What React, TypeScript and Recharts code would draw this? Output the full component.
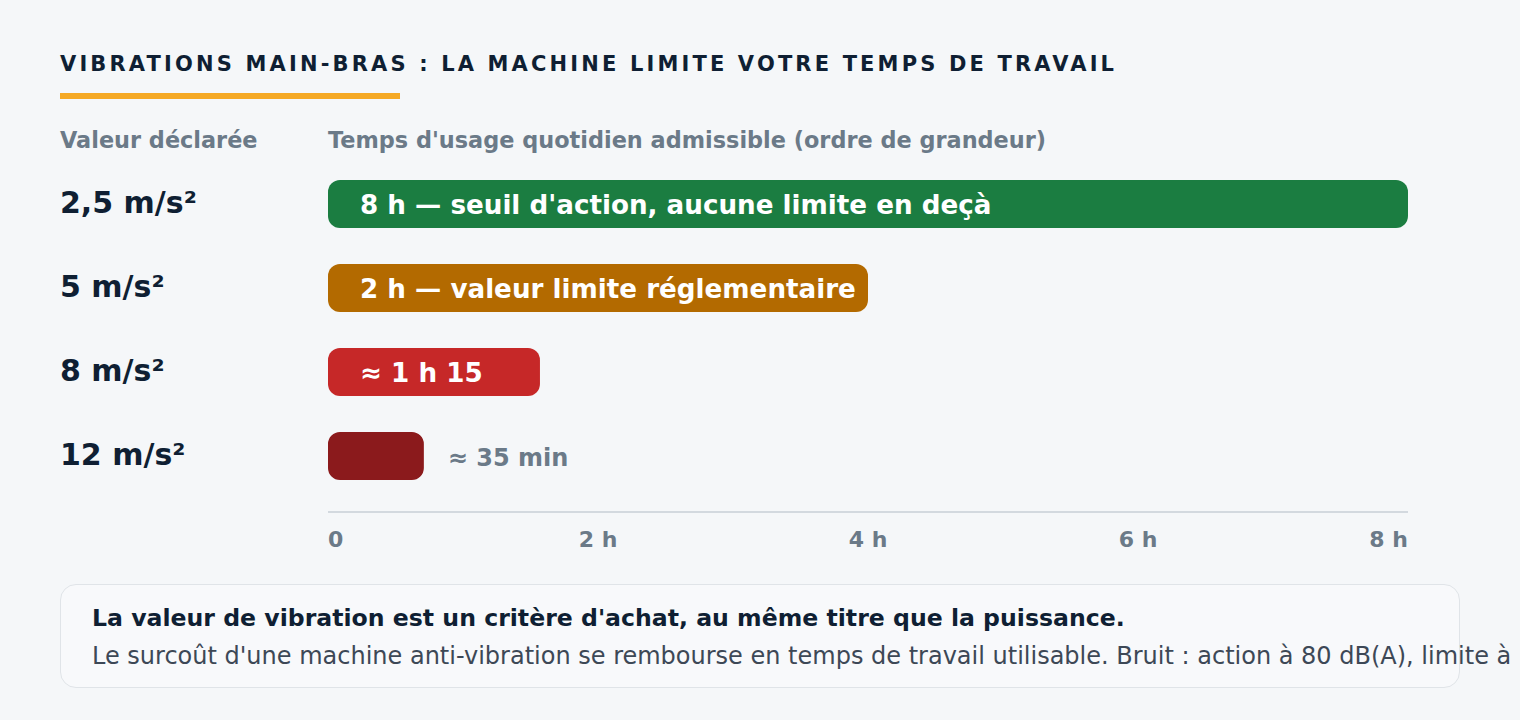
import { BarChart, Bar, XAxis, YAxis, Cell, LabelList } from 'recharts'

const vibrationValues = ['2,5 m/s²', '5 m/s²', '8 m/s²', '12 m/s²']
// bar length in axis hours, as drawn
const barLengths = [8, 4, 1.57, 0.71]
const barTexts = [
  "8 h — seuil d'action, aucune limite en deçà",
  '2 h — valeur limite réglementaire',
  '≈ 1 h 15',
  '≈ 35 min',
]
const labelInside = [true, true, true, false]
const barColors = ['#1b7d41', '#b36a00', '#c62828', '#8b1a1c']
const hourTicks = [0, 2, 4, 6, 8]
const hourTickLabels = ['0', '2 h', '4 h', '6 h', '8 h']

const FONT = '"DejaVu Sans", Verdana, sans-serif'
const NAVY = '#0f1f33'
const GREY = '#6b7a88'

const chartData = vibrationValues.map((v, i) => ({
  vib: v,
  hours: barLengths[i],
  text: barTexts[i],
  inside: labelInside[i],
}))

function HourTick(props: any) {
  const { x, y, payload, index } = props
  const anchor = index === 0 ? 'start' : index === hourTicks.length - 1 ? 'end' : 'middle'
  return (
    <text x={x} y={y + 27} textAnchor={anchor} fill={GREY} fontSize={22} fontWeight={700} fontFamily={FONT}>
      {hourTickLabels[hourTicks.indexOf(payload.value)]}
    </text>
  )
}

function VibTick(props: any) {
  const { y, payload } = props
  return (
    <text x={60} y={y + 9} textAnchor="start" fill={NAVY} fontSize={30} fontWeight={700} fontFamily={FONT}>
      {payload.value}
    </text>
  )
}

function BarText(props: any) {
  const { x, y, width, height, index } = props
  const d = chartData[index]
  const cy = y + height / 2 + 10
  if (d.inside) {
    return (
      <text x={x + 32} y={cy} fill="#ffffff" fontSize={26.2} fontWeight={700} fontFamily={FONT}>
        {d.text}
      </text>
    )
  }
  return (
    <text x={x + width + 24} y={cy} fill={GREY} fontSize={24} fontWeight={700} fontFamily={FONT}>
      {d.text}
    </text>
  )
}

export default function App() {
  return (
    <div style={{ position: 'fixed', left: 0, top: 0, width: 1520, height: 720, background: '#f5f7f9', overflow: 'hidden', fontFamily: FONT }}>
      <div style={{ position: 'absolute', left: 60, top: 52, fontSize: 21, fontWeight: 700, letterSpacing: 3.15, color: NAVY, whiteSpace: 'nowrap' }}>
        VIBRATIONS MAIN-BRAS : LA MACHINE LIMITE VOTRE TEMPS DE TRAVAIL
      </div>
      <div style={{ position: 'absolute', left: 60, top: 93, width: 340, height: 6, background: '#f5a925' }} />
      <div style={{ position: 'absolute', left: 60, top: 127, fontSize: 22.4, fontWeight: 700, color: GREY, whiteSpace: 'nowrap' }}>
        Valeur déclarée
      </div>
      <div style={{ position: 'absolute', left: 328, top: 127, fontSize: 22.4, fontWeight: 700, color: GREY, whiteSpace: 'nowrap' }}>
        Temps d'usage quotidien admissible (ordre de grandeur)
      </div>

      <div style={{ position: 'absolute', left: 0, top: 0 }}>
        <BarChart width={1520} height={570} data={chartData} layout="vertical"
          margin={{ top: 162, right: 112, left: 0, bottom: 0 }} barSize={48}>
          <XAxis type="number" domain={[0, 8]} ticks={hourTicks} interval={0}
            axisLine={{ stroke: '#d3d9df', strokeWidth: 2 }} tickLine={false} tick={<HourTick />} height={58} />
          <YAxis type="category" dataKey="vib" width={328} axisLine={false} tickLine={false}
            tick={<VibTick />} padding={{ top: 0, bottom: 14 }} />
          <Bar dataKey="hours" radius={12} isAnimationActive={false}>
            {chartData.map((_, i) => <Cell key={i} fill={barColors[i]} />)}
            <LabelList dataKey="text" content={<BarText />} />
          </Bar>
        </BarChart>
      </div>

      <div style={{ position: 'absolute', left: 60, top: 584, width: 1398, height: 102, border: '1px solid #e0e4e8', borderRadius: 16, background: '#f8f9fb' }} />
      <div style={{ position: 'absolute', left: 92, top: 604, fontSize: 23.6, fontWeight: 700, color: NAVY, whiteSpace: 'nowrap' }}>
        La valeur de vibration est un critère d'achat, au même titre que la puissance.
      </div>
      <div style={{ position: 'absolute', left: 92, top: 642, fontSize: 24, color: '#3d4856', whiteSpace: 'nowrap' }}>
        Le surcoût d'une machine anti-vibration se rembourse en temps de travail utilisable. Bruit : action à 80 dB(A), limite à 87 dB(A).
      </div>
    </div>
  )
}
